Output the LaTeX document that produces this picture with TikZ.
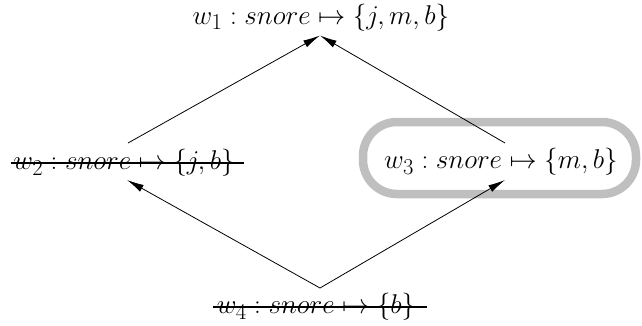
\documentclass[tikz,border=0pt]{standalone}
\usetikzlibrary{arrows.meta}
\begin{document}
\begin{tikzpicture}[x=1pt,y=-1pt,
  lbl/.style={inner sep=3pt, outer sep=0pt, font=\fontsize{24.88}{30}\selectfont, transform shape, scale=1.09},
  arr/.style={-{Latex[length=17pt,width=7.5pt]}, line width=0.8pt},
  strike/.style={line width=1.3pt}]
\useasboundingbox (0,0) rectangle (642,325);
\node[lbl] (w1) at (321,17.5) {$w_1 : snore \mapsto \{j,m,b\}$};
\node[lbl] (w2) at (124,163) {$w_2 : snore \mapsto \{j,b\}$};
\node[lbl] (w3) at (501,162) {$w_3 : snore \mapsto \{m,b\}$};
\node[lbl] (w4) at (316,307) {$w_4 : snore \mapsto \{b\}$};
\draw[strike] ([xshift=1pt]w2.west) -- ([xshift=6pt]w2.east);
\draw[strike] ([xshift=-1pt]w4.west) -- ([xshift=8pt]w4.east);
\draw[gray!50, line width=8.5pt, rounded corners=34pt] (363,122) rectangle (636,194);
\draw[arr] ([xshift=4pt,yshift=20pt]w2.center) -- ([xshift=-1pt,yshift=-18pt]w1.center);
\draw[arr] ([xshift=4pt,yshift=19pt]w3.center) -- ([xshift=-1pt,yshift=-18pt]w1.center);
\draw[arr] ([xshift=4pt,yshift=19pt]w4.center) -- ([xshift=3pt,yshift=-17pt]w2.center);
\draw[arr] ([xshift=4pt,yshift=19pt]w4.center) -- ([xshift=4pt,yshift=-18pt]w3.center);
\end{tikzpicture}
\end{document}
